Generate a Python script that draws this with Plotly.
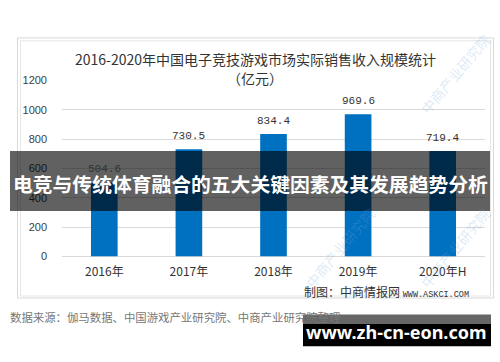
import plotly.graph_objects as go

years = ["2016年", "2017年", "2018年", "2019年", "2020年H"]
revenue = [504.6, 730.5, 834.4, 969.6, 719.4]
y_ticks = [0, 200, 400, 600, 800, 1000, 1200]

W, H = 500, 362
def px(x): return x / W
def py(y): return 1 - y / H

CJK = "Noto Sans CJK SC"
fig = go.Figure()
fig.add_trace(go.Bar(x=years, y=revenue, marker=dict(color="#0070C0", line=dict(width=0)),
                     hoverinfo="skip"))

for xv, yv in zip(years, revenue):
    fig.add_annotation(x=xv, y=yv, xref="x", yref="y", text=f"{yv:.1f}", showarrow=False,
                       xanchor="center", yanchor="bottom", yshift=5,
                       font=dict(family="Liberation Mono, DejaVu Sans Mono", size=11, color="#333333"))

shapes = []
shapes.append(dict(type="rect", xref="paper", yref="paper", x0=px(17.5), x1=px(493.5), y0=py(302), y1=py(33),
                   line=dict(color="#d9d9d9", width=1), layer="below"))
shapes.append(dict(type="rect", xref="paper", yref="paper", x0=px(20.5), x1=px(490.5), y0=py(300), y1=py(36),
                   line=dict(color="#e6e6e6", width=1), layer="below"))
shapes.append(dict(type="rect", xref="paper", yref="paper", x0=px(10), x1=px(490), y0=py(212), y1=py(150),
                   fillcolor="rgba(0,0,0,0.62)", line=dict(width=0), layer="above"))
shapes.append(dict(type="rect", xref="paper", yref="paper", x0=px(303), x1=px(491), y0=py(329), y1=py(319),
                   fillcolor="rgba(0,0,0,0.6)", line=dict(width=0), layer="above"))
shapes.append(dict(type="rect", xref="paper", yref="paper", x0=px(303), x1=px(491), y0=py(352), y1=py(329),
                   fillcolor="#000000", line=dict(width=0), layer="above"))

def ann(x, y, text, size, color, family=CJK, xanchor="center", **kw):
    return dict(xref="paper", yref="paper", x=px(x), y=py(y), text=text, showarrow=False,
                xanchor=xanchor, yanchor="middle", font=dict(family=family, size=size, color=color), **kw)

annotations = []
for cx in [70, 205, 340, 455]:
    for cy in [70, 250]:
        annotations.append(ann(cx, cy, "中商产业研究院", 14, "rgba(120,170,220,0.25)", textangle=-50))
annotations += [
    ann(255, 55, "2016-2020年中国电子竞技游戏市场实际销售收入规模统计", 14, "#333333"),
    ann(255, 74, "（亿元）", 14, "#333333"),
    ann(471, 295, "制图：中商情报网 <span style='font-family:Liberation Mono;font-size:8.5px'>WWW.ASKCI.COM</span>",
        12, "#333333", xanchor="right"),
    ann(8, 322, "数据来源：伽马数据、中国游戏产业研究院、中商产业研究院整理", 11.4, "#777777", xanchor="left"),
    ann(250, 184, "<b>电竞与传统体育融合的五大关键因素及其发展趋势分析</b>", 19.8, "#ffffff"),
    ann(396, 337, "<b>www.zh-cn-eon.com</b>", 18, "#ffffff", family="Noto Sans, DejaVu Sans"),
]

fig.update_layout(
    width=W, height=H, margin=dict(l=0, r=0, t=0, b=0),
    paper_bgcolor="#ffffff", plot_bgcolor="rgba(0,0,0,0)",
    showlegend=False, bargap=0.685,
    shapes=shapes, annotations=annotations,
    xaxis=dict(domain=[px(62), px(485)], showgrid=False, showline=False, ticks="",
               tickfont=dict(family=CJK, size=12, color="#333333"), ticklabelstandoff=7),
    yaxis=dict(domain=[py(259), py(77)], range=[0, 1200], tickvals=y_ticks,
               showgrid=True, gridcolor="#d9d9d9", gridwidth=1, zeroline=True, zerolinecolor="#d9d9d9",
               zerolinewidth=1, showline=False, ticks="", ticklabelstandoff=14,
               tickfont=dict(family="Liberation Sans, Arial", size=11, color="#404040")),
)

fig.write_html("out.html")
